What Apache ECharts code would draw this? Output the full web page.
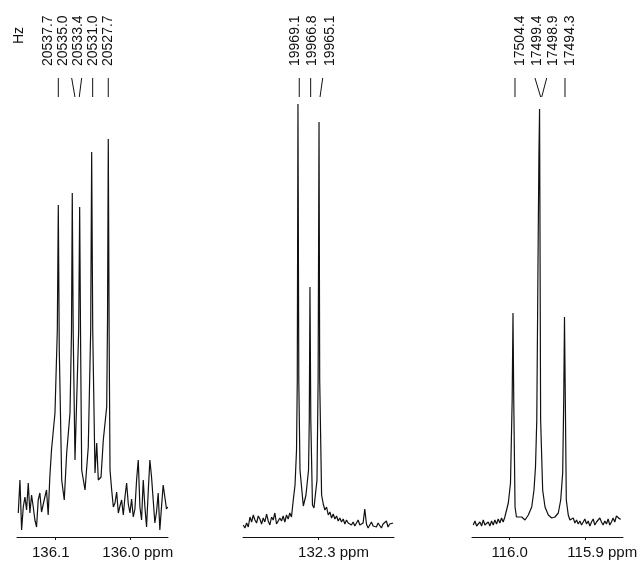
<!DOCTYPE html>
<html>
<head>
<meta charset="utf-8">
<script src="https://cdn.jsdelivr.net/npm/echarts@6/dist/echarts.min.js"></script>
<style>
  html, body { margin: 0; padding: 0; background: #fff; }
  #main { width: 642px; height: 566px; }
</style>
</head>
<body>
<div id="main"></div>
<script>
// spectrum 1 (136 ppm region)
const p1Ppm = [136.1483,136.1461,136.1439,136.1417,136.1395,136.1373,136.1351,136.1329,136.1307,136.1285,
  136.1263,136.1241,136.1219,136.1197,136.1175,136.1153,136.1131,136.1109,136.1087,136.1065,136.1043,
  136.0997,136.0966,136.0953,136.094,136.0908,136.0874,136.0842,136.0798,136.0778,136.0768,
  136.0756,136.0732,136.0683,136.067,136.0658,136.0643,136.0599,136.0556,136.0524,136.0511,
  136.0497,136.0467,136.0444,136.0423,136.0387,136.0357,136.0312,136.0301,136.0291,136.028,136.0268,
  136.0246,136.0224,136.0202,136.018,136.0158,136.0136,136.0114,136.0092,136.007,136.0048,
  136.0026,136.0004,135.9982,135.996,135.9938,135.9916,135.9894,135.9872,135.985,135.9828,
  135.9806,135.9784,135.9762,135.974,135.9718,135.9696,135.9674,135.9652,135.963,135.9608,
  135.9586,135.9564,135.9542,135.952,135.9504];
const p1Int = [24,57,7,30,40,27,54,24,42,30,
  17,10,37,44,25,27,40,47,22,60,87,
  124,207,332,187,57,37,84,124,207,344,
  207,77,207,330,197,67,47,90,207,385,
  207,64,94,57,60,97,130,217,398,207,67,
  47,30,34,45,24,31,37,22,40,54,
  33,24,38,20,28,57,77,30,17,57,
  30,10,45,77,60,37,14,25,44,7,
  30,52,40,28,30];
const p1Hz = ['20537.7','20535.0','20533.4','20531.0','20527.7'];
const p1PeakPpm = [136.0953,136.0768,136.067,136.0511,136.0291];

// spectrum 2 (132.3 ppm region)
const p2Ppm = [132.3996,132.3974,132.3952,132.393,132.3908,132.3886,132.3864,132.3842,132.382,132.3798,
  132.3776,132.3754,132.3732,132.371,132.3688,132.3666,132.3644,132.3622,132.36,132.3578,
  132.3556,132.3534,132.3512,132.349,132.3468,132.3446,132.3424,132.3402,132.338,132.3358,
  132.3334,132.3311,132.3291,132.3281,132.3272,132.3261,132.3245,132.3201,132.3166,132.3132,
  132.3122,132.3113,132.3102,132.308,132.306,132.302,132.3005,132.2993,132.2984,
  132.2959,132.2937,132.2915,132.2893,132.2871,132.2849,132.2827,132.2805,132.2783,132.2761,
  132.2739,132.2717,132.2695,132.2673,132.2651,132.2629,132.2607,132.2585,132.2563,132.2541,
  132.2519,132.2497,132.2475,132.2453,132.2431,132.2409,132.2387,132.2365,132.2343,132.2321,
  132.2299,132.2277,132.2255,132.2233,132.2211,132.2189,132.2167,132.2145,132.2123,132.2101,
  132.2079,132.2057,132.2035,132.2013];
const p2Int = [12,9,14,10,20,15,22,17,14,21,
  18,13,19,15,23,16,12,20,17,24,
  13,11,19,16,21,15,22,18,24,20,
  37,52,87,157,433,157,67,31,42,67,
  117,250,117,32,29,57,157,415,157,
  42,33,27,30,22,25,19,23,18,21,
  16,19,15,18,13,17,14,16,12,15,
  11,14,17,12,10,14,28,13,9,12,
  15,11,13,10,14,12,9,13,11,16,
  10,13,11,14];
const p2Hz = ['19969.1','19966.8','19965.1'];
const p2PeakPpm = [132.3272,132.3113,132.2993];

// spectrum 3 (116 ppm region)
const p3Ppm = [116.0483,116.0461,116.0439,116.0417,116.0395,116.0373,116.0351,116.0329,116.0307,116.0285,
  116.0263,116.0241,116.0219,116.0197,116.0175,116.0153,116.0131,116.0109,116.0087,116.0065,116.0043,
  116.0019,115.999,115.9968,115.9957,115.9947,115.993,115.9911,115.9887,115.9842,115.9798,
  115.9754,115.9709,115.9679,115.9659,115.9642,115.9623,115.9614,115.9605,115.9591,115.9564,
  115.9533,115.9489,115.9444,115.9401,115.9357,115.9325,115.9299,115.9285,115.9275,115.9264,115.9251,
  115.9225,115.9203,115.9181,115.9159,115.9137,115.9115,115.9093,115.9071,115.9049,115.9027,
  115.9005,115.8983,115.8961,115.8939,115.8917,115.8895,115.8873,115.8851,115.8829,115.8807,
  115.8785,115.8763,115.8741,115.8719,115.8697,115.8675,115.8653,115.8631,115.8609,115.8587,
  115.8565,115.8543,115.8527];
const p3Int = [12,16,11,9,15,11,17,12,10,15,
  11,16,12,17,13,18,14,19,15,20,22,
  34,54,137,224,137,30,20,18,20,17,
  22,30,47,70,117,300,380,428,117,47,
  30,22,19,20,24,37,64,137,220,137,37,
  22,17,15,19,14,17,13,16,12,15,
  18,13,16,11,15,18,12,15,13,19,
  15,12,16,13,18,12,15,19,15,21,
  22,18,18];
const p3Hz = ['17504.4','17499.4','17498.9','17494.3'];
const p3PeakPpm = [115.9957,115.9613,115.9586,115.9275];

const FONT = '"Liberation Sans", Arial, sans-serif';
const INK = '#111';

const panels = [
  { left: 17, min: 135.95, max: 136.15, ticks: [136.1, 136.0], unit: 136.0,
    ppm: p1Ppm, int: p1Int, peaks: p1PeakPpm, hz: p1Hz,
    tickTop: [0, -0.6, 2, 1, 0], tickBot: [0, 2.7, -0.4, 1, 0],
    labelDx: [-10.6, -9.6, -2, 1, -0.6], unitPad: 15, otherPad: [0, 8, 0, 0] },
  { left: 243, min: 132.2, max: 132.4, ticks: [132.3], unit: 132.3,
    ppm: p2Ppm, int: p2Int, peaks: p2PeakPpm, hz: p2Hz,
    tickTop: [1.3, 0.7, 3.7], tickBot: [1.3, 0.7, 1],
    labelDx: [-3, 2.5, 11], unitPad: 30, otherPad: [0, 0, 0, 0] },
  { left: 472, min: 115.85, max: 116.05, ticks: [116.0, 115.9], unit: 115.9,
    ppm: p3Ppm, int: p3Int, peaks: p3PeakPpm, hz: p3Hz,
    tickTop: [2, -4, 5.7, 0.5], tickBot: [2, 1.7, 0.7, 0.5],
    labelDx: [7.5, -2, 12.5, 5.5], unitPad: 34, otherPad: [0, 0, 0, 0] }
];

const grid = [], xAxis = [], yAxis = [], series = [];
panels.forEach(function (p, k) {
  grid.push({ left: p.left, width: 151, top: 37, bottom: 29, containLabel: false, outerBoundsMode: 'none' });
  xAxis.push({
    type: 'value', gridIndex: k, inverse: true, min: p.min, max: p.max,
    axisLine: { lineStyle: { color: INK, width: 1 } },
    axisTick: { customValues: p.ticks, length: 3, lineStyle: { color: INK } },
    splitLine: { show: false },
    axisLabel: {
      customValues: p.ticks, margin: 8, color: INK, fontFamily: FONT, fontSize: 15,
      formatter: function (v) {
        const s = v.toFixed(1);
        return Math.abs(v - p.unit) < 1e-6 ? '{u|' + s + ' ppm}' : '{n|' + s + '}';
      },
      rich: {
        u: { fontFamily: FONT, fontSize: 15, color: INK, padding: [0, 0, 0, p.unitPad] },
        n: { fontFamily: FONT, fontSize: 15, color: INK, padding: p.otherPad }
      }
    }
  });
  yAxis.push({ type: 'value', gridIndex: k, min: 0, max: 500, show: false });
  series.push({
    type: 'line', xAxisIndex: k, yAxisIndex: k, showSymbol: false, animation: false,
    lineStyle: { color: INK, width: 1.2 },
    data: p.ppm.map(function (v, i) { return [v, p.int[i]]; })
  });
  // peak frequency labels with their connector marks
  series.push({
    type: 'custom', xAxisIndex: k, yAxisIndex: k, clip: false, animation: false,
    data: p.peaks.map(function (v) { return [v, 0]; }),
    renderItem: function (params, api) {
      const i = params.dataIndex;
      const x = api.coord([api.value(0), 0])[0];
      return {
        type: 'group',
        children: [
          { type: 'line', shape: { x1: x + p.tickTop[i], y1: 78, x2: x + p.tickBot[i], y2: 97 },
            style: { stroke: INK, lineWidth: 1 } },
          { type: 'text', x: x + p.labelDx[i], y: 66, rotation: Math.PI / 2,
            style: { text: p.hz[i], fill: INK, font: '14px ' + FONT, align: 'left', verticalAlign: 'middle' } }
        ]
      };
    }
  });
});

const chart = echarts.init(document.getElementById('main'));
chart.setOption({
  backgroundColor: '#fff',
  animation: false,
  grid: grid,
  xAxis: xAxis,
  yAxis: yAxis,
  series: series,
  graphic: [
    { type: 'text', x: 19, y: 44, rotation: Math.PI / 2,
      style: { text: 'Hz', fill: INK, font: '14px ' + FONT, align: 'left', verticalAlign: 'middle' } }
  ]
});
</script>
</body>
</html>
